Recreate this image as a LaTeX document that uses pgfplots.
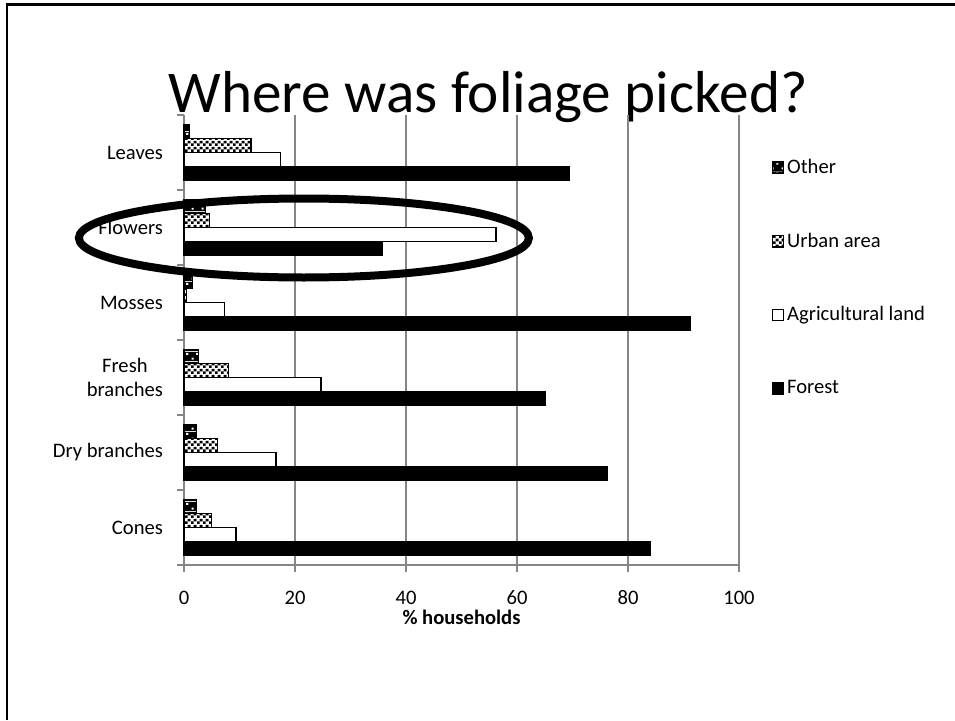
\documentclass[border=0pt]{standalone}
\usepackage{pgfplots}
\pgfplotsset{compat=1.18}
\usepackage{pgfplotstable}
\usepackage{fontspec}
\setmainfont{Carlito}
\usetikzlibrary{patterns.meta}

\definecolor{gridgray}{RGB}{134,134,134}

% fine black/white checker for "Urban area"
\tikzdeclarepattern{
  name=urbanchecker,
  type=colored,
  bottom left={(0pt,0pt)},
  top right={(2.8pt,2.8pt)},
  tile size={(2.8pt,2.8pt)},
  code={
    \fill[white] (0pt,0pt) rectangle (2.8pt,2.8pt);
    \fill[black] (0pt,0pt) rectangle (1.4pt,1.4pt);
    \fill[black] (1.4pt,1.4pt) rectangle (2.8pt,2.8pt);
  }
}
% black with sparse white dots for "Other"
\tikzdeclarepattern{
  name=otherdots,
  type=colored,
  bottom left={(0pt,0pt)},
  top right={(5pt,5pt)},
  tile size={(5pt,5pt)},
  code={
    \fill[black] (0pt,0pt) rectangle (5pt,5pt);
    \fill[white] (0.8pt,0.8pt) rectangle (1.9pt,1.9pt);
    \fill[white] (3.3pt,3.3pt) rectangle (4.4pt,4.4pt);
  }
}

% share of households (%) by place where each kind of foliage was picked
\pgfplotstableread{
cat forest agri urban other
0   84.0   9.4  5.0  2.2
1   76.2   16.6 6.0  2.2
2   65.1   24.7 8.0  2.6
3   91.2   7.3  0.5  1.5
4   35.8   56.2 4.6  3.9
5   69.4   17.4 12.1 1.0
}\foliage

\newcommand\lblfont{\fontsize{10.3}{12.4}\selectfont}

\begin{document}
\begin{tikzpicture}
\useasboundingbox (0pt,0pt) rectangle (477.5pt,360pt);
% slide frame
\draw[line width=1.25pt] (3.5pt,0pt) -- (3.5pt,357.65pt) -- (477.5pt,357.65pt);
% title
\node[anchor=base, inner sep=0pt, font=\fontsize{29.6}{35}\selectfont] at (244pt,304pt) {Where was foliage picked?};

\begin{axis}[
  at={(92pt,77.5pt)}, anchor=south west,
  scale only axis, width=277.5pt, height=225pt,
  xbar=0pt, bar width=6.875pt,
  legend image code/.code={\draw[#1] (0pt,-2.8pt) rectangle (5.6pt,2.8pt);},
  xmin=0, xmax=100, ymin=-0.5, ymax=5.5,
  axis lines*=left,
  axis line style={gridgray, line width=0.9pt},
  xtick={0,20,...,100},
  xmajorgrids, major grid style={gridgray, line width=0.9pt},
  tick align=outside, major tick length=3.5pt,
  tick style={gridgray, line width=0.9pt},
  ytick={-0.5,0.5,...,5.5}, yticklabels={},
  extra y ticks={0,1,2,3,4,5},
  extra y tick labels={Cones, Dry branches, {Fresh\\branches}, Mosses, Flowers, Leaves},
  extra y tick style={major tick length=0pt},
  yticklabel style={align=center, font=\lblfont, text=black, xshift=-7pt},
  xticklabel style={font=\lblfont, text=black, text height=6.6pt, text depth=0pt,
    inner ysep=1pt, yshift=-8.4pt},
  /pgf/number format/assume math mode=true,
  xlabel={\textbf{\% households}},
  xlabel style={font=\lblfont, inner ysep=1pt, yshift=-0.8pt},
  legend style={draw=none, fill=none, at={(1.058,0.912)}, anchor=north west,
    row sep=24.2pt, font=\lblfont, inner sep=0pt,
    nodes={inner xsep=1.5pt}},
  legend cell align=left,
  reverse legend,
  clip=false,
]
\addplot[fill=black, draw=black, line width=0.7pt] table[x=forest, y=cat] {\foliage};
\addlegendentry{Forest}
\addplot[fill=white, draw=black, line width=0.7pt] table[x=agri, y=cat] {\foliage};
\addlegendentry{Agricultural land}
\addplot[pattern=urbanchecker, draw=black, line width=0.7pt] table[x=urban, y=cat] {\foliage};
\addlegendentry{Urban area}
\addplot[pattern=otherdots, draw=black, line width=0.7pt] table[x=other, y=cat] {\foliage};
\addlegendentry{Other}
% highlight ring round the flowers group
\draw[line width=4pt] (axis cs:21.6,3.86) ellipse [x radius=112.5pt, y radius=19.75pt];
\end{axis}
\end{tikzpicture}
\end{document}
